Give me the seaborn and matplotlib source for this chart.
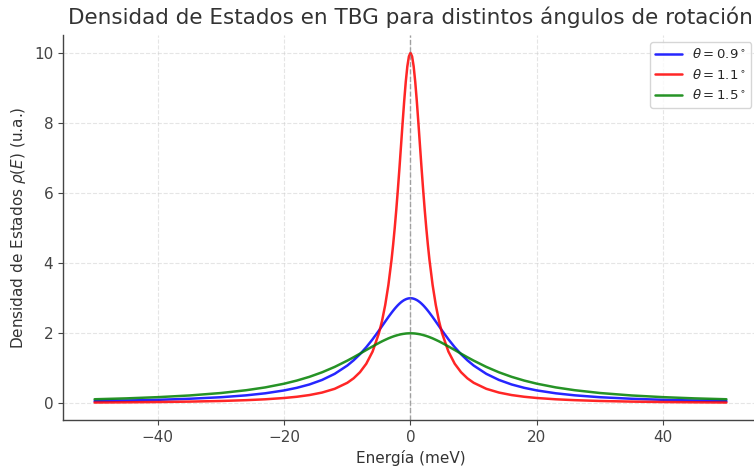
import numpy as np
import pandas as pd
import matplotlib
matplotlib.use("Agg")
import matplotlib.pyplot as plt
import seaborn as sns

# Energy samples (meV) and values
energy = [-50, -45, -40, -35, -30, -26, -23, -20, -18, -16, -14, -12, -10, -9, -8, -7, -6, -5,
          -4.5, -4, -3.5, -3, -2.75, -2.5, -2.25, -2, -1.75, -1.5, -1.25, -1, -0.75, -0.5, -0.25,
          0,
          0.25, 0.5, 0.75, 1, 1.25, 1.5, 1.75, 2, 2.25, 2.5, 2.75, 3, 3.5, 4, 4.5, 5, 6, 7, 8, 9,
          10, 12, 14, 16, 18, 20, 23, 26, 30, 35, 40, 45, 50]

rho_09 = [0.066, 0.081, 0.102, 0.132, 0.176, 0.230, 0.288, 0.370, 0.444, 0.540, 0.669, 0.843,
          1.080, 1.230, 1.403, 1.603, 1.829, 2.077, 2.206, 2.336, 2.464, 2.586, 2.644, 2.700,
          2.752, 2.801, 2.845, 2.885, 2.919, 2.948, 2.970, 2.987, 2.997,
          3.000,
          2.997, 2.987, 2.970, 2.948, 2.919, 2.885, 2.845, 2.801, 2.752, 2.700, 2.644, 2.586,
          2.464, 2.336, 2.206, 2.077, 1.829, 1.603, 1.403, 1.230, 1.080, 0.843, 0.669, 0.540,
          0.444, 0.370, 0.288, 0.230, 0.176, 0.132, 0.102, 0.081, 0.066]

rho_11 = [0.025, 0.031, 0.039, 0.051, 0.069, 0.092, 0.117, 0.154, 0.189, 0.238, 0.309, 0.416,
          0.588, 0.716, 0.890, 1.131, 1.479, 2.000, 2.358, 2.809, 3.378, 4.098, 4.525, 5.000,
          5.525, 6.098, 6.711, 7.353, 8.000, 8.621, 9.174, 9.615, 9.901,
          10.000,
          9.901, 9.615, 9.174, 8.621, 8.000, 7.353, 6.711, 6.098, 5.525, 5.000, 4.525, 4.098,
          3.378, 2.809, 2.358, 2.000, 1.479, 1.131, 0.890, 0.716, 0.588, 0.416, 0.309, 0.238,
          0.189, 0.154, 0.117, 0.092, 0.069, 0.051, 0.039, 0.031, 0.025]

rho_15 = [0.118, 0.143, 0.178, 0.226, 0.296, 0.376, 0.456, 0.562, 0.651, 0.758, 0.887, 1.041,
          1.220, 1.317, 1.419, 1.523, 1.625, 1.724, 1.771, 1.814, 1.855, 1.891, 1.908, 1.923,
          1.937, 1.950, 1.962, 1.972, 1.980, 1.987, 1.993, 1.997, 1.999,
          2.000,
          1.999, 1.997, 1.993, 1.987, 1.980, 1.972, 1.962, 1.950, 1.937, 1.923, 1.908, 1.891,
          1.855, 1.814, 1.771, 1.724, 1.625, 1.523, 1.419, 1.317, 1.220, 1.041, 0.887, 0.758,
          0.651, 0.562, 0.456, 0.376, 0.296, 0.226, 0.178, 0.143, 0.118]

labels = [r"$\theta = 0.9^\circ$", r"$\theta = 1.1^\circ$", r"$\theta = 1.5^\circ$"]
colors = ["blue", "red", "green"]

df = pd.concat([
    pd.DataFrame({"E": energy, "rho": rho_09, "angle": labels[0]}),
    pd.DataFrame({"E": energy, "rho": rho_11, "angle": labels[1]}),
    pd.DataFrame({"E": energy, "rho": rho_15, "angle": labels[2]}),
], ignore_index=True)

sns.set_style("ticks")
plt.rcParams["font.family"] = ["DejaVu Sans"]

fig = plt.figure(figsize=(7.54, 4.68), dpi=100)
ax = fig.add_axes([63 / 754, 48 / 468, (758 - 63) / 754, (420 - 35.4) / 468])

sns.lineplot(data=df, x="E", y="rho", hue="angle", palette=dict(zip(labels, colors)),
             hue_order=labels, ax=ax, linewidth=1.8, alpha=0.85, sort=False)

ax.axvline(0, color="gray", linestyle="--", linewidth=1.0, alpha=0.7)
ax.grid(True, linestyle="--", alpha=0.5)
sns.despine(ax=ax)
for s in ["left", "bottom"]:
    ax.spines[s].set_color("#444444")
    ax.spines[s].set_linewidth(1.0)

ax.set_title("Densidad de Estados en TBG para distintos ángulos de rotación", fontsize=15.5,
             color="#333333", pad=8)
ax.set_xlabel("Energía (meV)", fontsize=11, color="#333333")
ax.set_ylabel(r"Densidad de Estados $\rho(E)$ (u.a.)", fontsize=11, color="#333333")
ax.tick_params(labelsize=11, colors="#444444")
ax.set_xticks([-40, -20, 0, 20, 40])
ax.set_yticks([0, 2, 4, 6, 8, 10])

leg = ax.legend(loc="upper right", fontsize=9.5, frameon=True, title=None)
for line in leg.get_lines():
    line.set_linewidth(1.8)

fig.savefig("out.png", dpi=100)
